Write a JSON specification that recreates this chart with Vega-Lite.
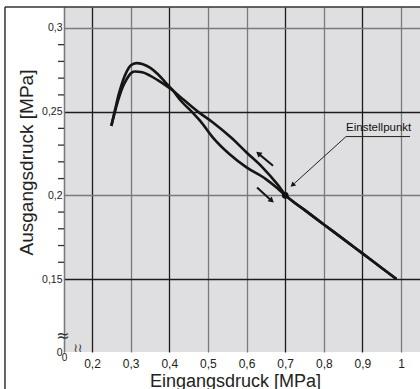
{
 "$schema": "https://vega.github.io/schema/vega-lite/v6.json",
 "width": 356, "height": 345,
 "autosize": {"type": "none"},
 "padding": {"left": 64, "top": 7, "right": 0, "bottom": 37},
 "background": "white",
 "config": {"view": {"fill": "#dfdfe1", "stroke": null}, "font": "Liberation Sans"},
 "datasets": {
  "curves": [
   {"c":"A","x":0.25,"y":0.2415},{"c":"A","x":0.26,"y":0.2515},{"c":"A","x":0.27,"y":0.261},{"c":"A","x":0.28,"y":0.2685},{"c":"A","x":0.29,"y":0.274},{"c":"A","x":0.30,"y":0.2775},{"c":"A","x":0.315,"y":0.279},{"c":"A","x":0.33,"y":0.2785},{"c":"A","x":0.35,"y":0.2763},{"c":"A","x":0.37,"y":0.2725},{"c":"A","x":0.39,"y":0.2675},{"c":"A","x":0.41,"y":0.2625},{"c":"A","x":0.43,"y":0.2565},{"c":"A","x":0.458,"y":0.25},{"c":"A","x":0.48,"y":0.2445},{"c":"A","x":0.513,"y":0.2345},{"c":"A","x":0.557,"y":0.2244},{"c":"A","x":0.6,"y":0.2167},{"c":"A","x":0.65,"y":0.2097},{"c":"A","x":0.68,"y":0.2042},{"c":"A","x":0.70,"y":0.2},{"c":"A","x":0.75,"y":0.1913},{"c":"A","x":0.8,"y":0.1826},{"c":"A","x":0.85,"y":0.174},{"c":"A","x":0.9,"y":0.1653},{"c":"A","x":0.95,"y":0.1566},{"c":"A","x":0.988,"y":0.15},
   {"c":"B","x":0.25,"y":0.2415},{"c":"B","x":0.26,"y":0.2505},{"c":"B","x":0.27,"y":0.2585},{"c":"B","x":0.28,"y":0.265},{"c":"B","x":0.29,"y":0.2695},{"c":"B","x":0.30,"y":0.2728},{"c":"B","x":0.31,"y":0.274},{"c":"B","x":0.33,"y":0.2735},{"c":"B","x":0.35,"y":0.2715},{"c":"B","x":0.37,"y":0.2688},{"c":"B","x":0.39,"y":0.2658},{"c":"B","x":0.41,"y":0.2625},{"c":"B","x":0.43,"y":0.2585},{"c":"B","x":0.474,"y":0.25},{"c":"B","x":0.513,"y":0.2435},{"c":"B","x":0.56,"y":0.2345},{"c":"B","x":0.6,"y":0.2256},{"c":"B","x":0.64,"y":0.217},{"c":"B","x":0.68,"y":0.2065},{"c":"B","x":0.70,"y":0.2005},{"c":"B","x":0.75,"y":0.1913},{"c":"B","x":0.8,"y":0.1826},{"c":"B","x":0.85,"y":0.174},{"c":"B","x":0.9,"y":0.1653},{"c":"B","x":0.95,"y":0.1566},{"c":"B","x":0.988,"y":0.15}
  ],
  "frame": [
   {"x": -0.0253, "x2": 1.06, "y": 0.3125, "y2": 0.3125},
   {"x": -0.0253, "x2": -0.0253, "y": 0.3125, "y2": 0.08}
  ],
  "bigArrows": [
   {"x": 0.6686, "y": 0.2177, "x2": 0.6324, "y2": 0.2246},
   {"x": 0.6272, "y": 0.2046, "x2": 0.6634, "y2": 0.1971}
  ],
  "leader": [
   {"x": 0.8576, "y": 0.2351, "x2": 0.7204, "y2": 0.2064},
   {"x": 0.8576, "y": 0.2351, "x2": 1.0233, "y2": 0.2351}
  ],
  "minorTicks": [
   {"x": 0.1197, "y": 0.16}, {"x": 0.1197, "y": 0.17}, {"x": 0.1197, "y": 0.18}, {"x": 0.1197, "y": 0.19},
   {"x": 0.1197, "y": 0.21}, {"x": 0.1197, "y": 0.22}, {"x": 0.1197, "y": 0.23}, {"x": 0.1197, "y": 0.24},
   {"x": 0.1197, "y": 0.26}, {"x": 0.1197, "y": 0.27}, {"x": 0.1197, "y": 0.28}, {"x": 0.1197, "y": 0.29}
  ]
 },
 "layer": [
  {
   "data": {"name": "curves"},
   "mark": {"type": "line", "color": "#151515", "strokeWidth": 2.6, "interpolate": "monotone", "strokeCap": "butt"},
   "encoding": {
    "x": {"field": "x", "type": "quantitative",
     "scale": {"domain": [0.1275, 1.049], "nice": false, "zero": false},
     "axis": {
      "title": "Eingangsdruck [MPa]",
      "values": [0.1275, 0.2, 0.3, 0.4, 0.5, 0.6, 0.7, 0.8, 0.9, 1],
      "tickCount": 40,
      "labelExpr": "datum.value < 0.15 ? '0' : (datum.value == 1 ? '1' : replace(format(datum.value, '.1f'), '.', ','))",
      "ticks": false, "domain": false, "grid": true,
      "gridColor": {"condition": {"test": "datum.value==0.2||datum.value==0.4||datum.value==0.7||datum.value==0.9", "value": "#1c1c1c"}, "value": "#7a7a7a"},
      "gridWidth": 1.3,
      "labelFontSize": {"condition": {"test": "datum.value < 0.15", "value": 10}, "value": 12},
      "labelPadding": {"condition": {"test": "datum.value < 0.15", "value": 0}, "value": 6},
      "labelColor": "#222", "labelFlush": false, "labelOverlap": false,
      "titleFontSize": 18, "titleFontWeight": "normal", "titleColor": "#222",
      "titleBaseline": "alphabetic", "titleX": 171, "titleY": 34
     }
    },
    "y": {"field": "y", "type": "quantitative",
     "scale": {"domain": [0.1064, 0.3125], "nice": false, "zero": false},
     "axis": {
      "title": "Ausgangsdruck [MPa]",
      "values": [0.1064, 0.15, 0.2, 0.25, 0.3],
      "tickCount": 40,
      "labelExpr": "datum.value < 0.12 ? '0' : replace(format(datum.value, '.2~f'), '.', ',')",
      "ticks": false,
      "labelPadding": 2,
      "grid": true,
      "gridColor": {"condition": {"test": "datum.value==0.25||datum.value==0.15", "value": "#1c1c1c"}, "value": "#7a7a7a"},
      "gridOpacity": {"condition": {"test": "datum.value < 0.12", "value": 0}, "value": 1},
      "gridWidth": 1.3,
      "domain": true, "domainColor": "#7a7a7a", "domainWidth": 1.3,
      "labelFontSize": 10.5, "labelColor": "#222", "labelOverlap": false, "labelFlush": false,
      "titleFontSize": 19, "titleFontWeight": "normal", "titleColor": "#222",
      "titleBaseline": "alphabetic", "titleX": -32, "titleY": 155
     }
    },
    "detail": {"field": "c"}
   }
  },
  {
   "data": {"name": "minorTicks"},
   "mark": {"type": "rule", "color": "#333", "strokeWidth": 1.3, "x2Offset": 3, "xOffset": -3},
   "encoding": {
    "x": {"field": "x", "type": "quantitative"},
    "x2": {"field": "x"},
    "y": {"field": "y", "type": "quantitative"}
   }
  },
  {
   "data": {"name": "frame"},
   "mark": {"type": "rule", "color": "#333", "strokeWidth": 1.5},
   "encoding": {
    "x": {"field": "x", "type": "quantitative"},
    "x2": {"field": "x2"},
    "y": {"field": "y", "type": "quantitative"},
    "y2": {"field": "y2"}
   }
  },
  {
   "data": {"name": "bigArrows"},
   "mark": {"type": "rule", "color": "#151515", "strokeWidth": 2},
   "encoding": {
    "x": {"field": "x", "type": "quantitative"},
    "x2": {"field": "x2"},
    "y": {"field": "y", "type": "quantitative"},
    "y2": {"field": "y2"}
   }
  },
  {
   "data": {"name": "leader"},
   "mark": {"type": "rule", "color": "#222", "strokeWidth": 1},
   "encoding": {
    "x": {"field": "x", "type": "quantitative"},
    "x2": {"field": "x2"},
    "y": {"field": "y", "type": "quantitative"},
    "y2": {"field": "y2"}
   }
  },
  {
   "data": {"values": [{"x": 0.6324, "y": 0.2246}]},
   "mark": {"type": "point", "shape": "triangle", "filled": true, "opacity": 1, "color": "#151515", "size": 40, "angle": 309.5},
   "encoding": {"x": {"field": "x", "type": "quantitative"}, "y": {"field": "y", "type": "quantitative"}}
  },
  {
   "data": {"values": [{"x": 0.6634, "y": 0.1971}]},
   "mark": {"type": "point", "shape": "triangle", "filled": true, "opacity": 1, "color": "#151515", "size": 40, "angle": 131.4},
   "encoding": {"x": {"field": "x", "type": "quantitative"}, "y": {"field": "y", "type": "quantitative"}}
  },
  {
   "data": {"values": [{"x": 0.7204, "y": 0.2064}]},
   "mark": {"type": "point", "shape": "triangle", "filled": true, "opacity": 1, "color": "#151515", "size": 32, "angle": 227.7},
   "encoding": {"x": {"field": "x", "type": "quantitative"}, "y": {"field": "y", "type": "quantitative"}}
  },
  {
   "data": {"values": [{"x": 0.7, "y": 0.2}]},
   "mark": {"type": "point", "shape": "circle", "filled": true, "opacity": 1, "color": "#111", "size": 45},
   "encoding": {"x": {"field": "x", "type": "quantitative"}, "y": {"field": "y", "type": "quantitative"}}
  },
  {
   "data": {"values": [{"x": 0.8576, "y": 0.2386, "t": "Einstellpunkt"}]},
   "mark": {"type": "text", "align": "left", "baseline": "alphabetic", "fontSize": 11.5, "color": "#111"},
   "encoding": {"x": {"field": "x", "type": "quantitative"}, "y": {"field": "y", "type": "quantitative"}, "text": {"field": "t"}}
  },
  {
   "data": {"values": [{"x": 0.125, "y": 0.1158, "t": "≈"}]},
   "mark": {"type": "text", "font": "DejaVu Sans", "fontSize": 16, "color": "#333"},
   "encoding": {"x": {"field": "x", "type": "quantitative"}, "y": {"field": "y", "type": "quantitative"}, "text": {"field": "t"}}
  },
  {
   "data": {"values": [{"x": 0.1637, "y": 0.1088, "t": "≀≀"}]},
   "mark": {"type": "text", "font": "DejaVu Sans", "fontSize": 12, "color": "#333"},
   "encoding": {"x": {"field": "x", "type": "quantitative"}, "y": {"field": "y", "type": "quantitative"}, "text": {"field": "t"}}
  }
 ]
}
